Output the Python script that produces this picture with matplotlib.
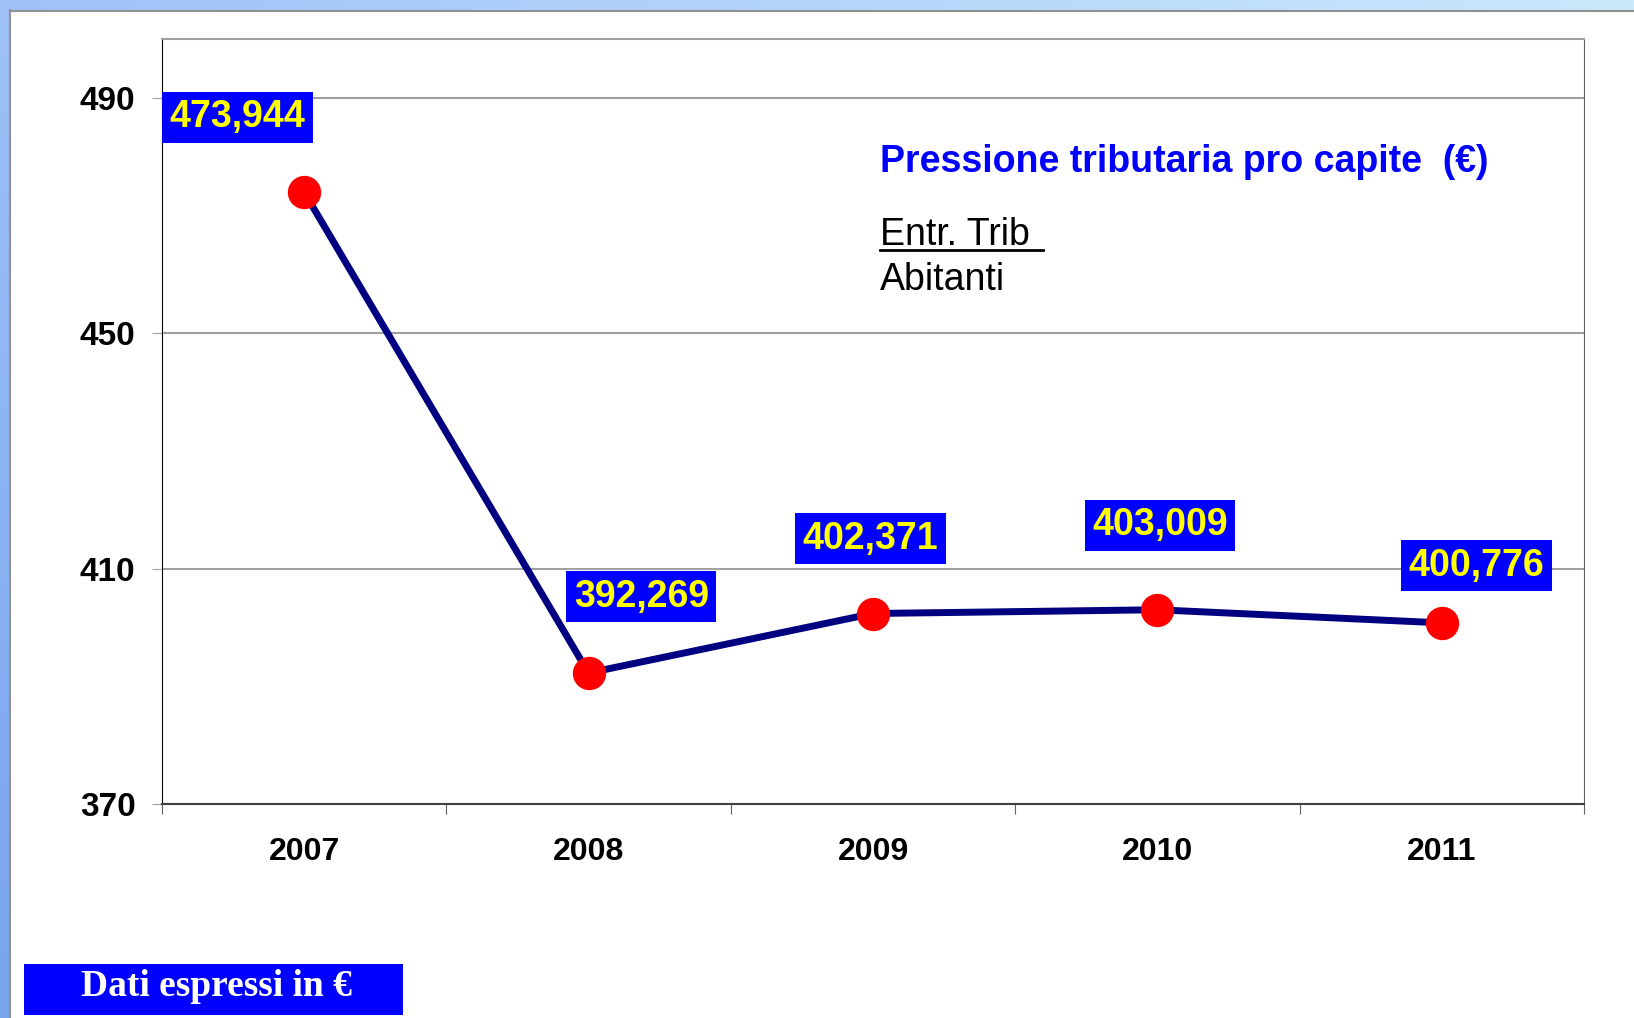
import numpy as np
import matplotlib
matplotlib.use("Agg")
import matplotlib.pyplot as plt
from matplotlib.patches import Rectangle
from matplotlib.lines import Line2D

# data
anni = ["2007", "2008", "2009", "2010", "2011"]
valori = [473.944, 392.269, 402.371, 403.009, 400.776]
etichette = ["473,944", "392,269", "402,371", "403,009", "400,776"]
# label offsets (points) from each marker
offs = [(-48, 54), (38, 55), (-2, 54), (2, 61), (25, 41)]
yticks = [370, 410, 450, 490]

plt.rcParams['font.family'] = ['Liberation Sans', 'DejaVu Sans']

W, H = 1634, 1018
fig = plt.figure(figsize=(W / 100, H / 100), dpi=100)
fig.patch.set_facecolor("white")

# light blue frame bands (top and left)
top = fig.add_axes([0, 1 - 10 / H, 1, 10 / H])
top.imshow(np.linspace(0, 1, 256)[None, :], aspect="auto",
           cmap=matplotlib.colors.LinearSegmentedColormap.from_list("t", ["#9ec2f8", "#cbe8fc"]))
top.axis("off")
left = fig.add_axes([0, 0, 9 / W, 1])
left.imshow(np.linspace(0, 1, 256)[:, None], aspect="auto",
            cmap=matplotlib.colors.LinearSegmentedColormap.from_list("l", ["#9ec2f8", "#78a4ee"]))
left.axis("off")
fig.add_artist(Line2D([9.5 / W, 9.5 / W], [0, 1 - 10 / H], transform=fig.transFigure, color="#909090", lw=1.5))
fig.add_artist(Line2D([9.5 / W, 1], [1 - 10.5 / H, 1 - 10.5 / H], transform=fig.transFigure, color="#909090", lw=1.5))

ax = fig.add_axes([162 / W, 1 - 804 / H, (1584 - 162) / W, (804 - 39) / H])
x = np.arange(len(anni))
ax.plot(x, valori, color="#000080", lw=5, zorder=3)
ax.plot(x, valori, "o", color="red", markersize=23, zorder=4)

for xi, v, lab, (dx, dy) in zip(x, valori, etichette, offs):
    ax.annotate(lab, (xi, v), xytext=(dx, dy), textcoords="offset points",
                ha="center", va="center", color="yellow", fontsize=27, fontweight="bold",
                bbox=dict(boxstyle="square,pad=0.2", facecolor="#0000ff", edgecolor="none"),
                zorder=5)

ax.set_xlim(-0.5, 4.5)
ax.set_ylim(370, 500)
ax.set_yticks(yticks)
ax.set_yticklabels([str(t) for t in yticks], fontsize=24, fontweight="bold")
ax.set_xticks(np.arange(-0.5, 5, 1))
ax.set_xticklabels([])
ax.set_xticks(x, minor=True)
ax.set_xticklabels(anni, minor=True, fontsize=23, fontweight="bold")
ax.tick_params(axis="x", which="minor", length=0, pad=24)
ax.tick_params(axis="x", which="major", length=7, color="#606060", direction="out")
ax.tick_params(axis="y", length=7, color="#a0a0a0", pad=12)
ax.grid(axis="y", color="#a0a0a0", lw=1.5)
ax.set_axisbelow(True)
ax.spines["left"].set_color("black")
ax.spines["bottom"].set_color("#404040")
ax.spines["bottom"].set_linewidth(1.5)
ax.spines["top"].set_color("#a0a0a0")
ax.spines["top"].set_linewidth(1.5)
ax.spines["right"].set_color("#606060")

fig.text(880 / W, 1 - 162 / H, "Pressione tributaria pro capite  (€)", color="#0000ff",
         fontsize=27, fontweight="bold", va="center", ha="left")
fig.text(880 / W, 1 - 235 / H, "Entr. Trib ", color="black", fontsize=27, va="center", ha="left")
fig.add_artist(Line2D([880 / W, 1043 / W], [1 - 250 / H, 1 - 250 / H], transform=fig.transFigure,
                      color="black", lw=2))
fig.text(880 / W, 1 - 280 / H, "Abitanti", color="black", fontsize=27, va="center", ha="left")

fig.add_artist(Rectangle((24 / W, 1 - 1015 / H), (403 - 24) / W, (1015 - 964) / H,
                         transform=fig.transFigure, facecolor="#0000ff", edgecolor="none"))
fig.text(216 / W, 1 - 986 / H, "Dati espressi in €", color="white", fontsize=27,
         fontweight="bold", family=["Liberation Serif", "DejaVu Serif"], ha="center", va="center")

fig.savefig("out.png", dpi=100)
